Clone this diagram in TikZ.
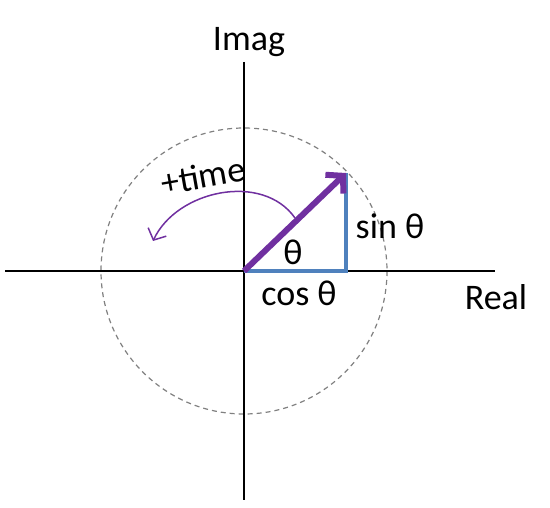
\documentclass[tikz,border=0pt]{standalone}
\usepackage{fontspec}
\setmainfont{Carlito}
\usetikzlibrary{arrows.meta}
\definecolor{ppl}{RGB}{112,48,160}
\definecolor{blu}{RGB}{79,129,189}
\begin{document}
\begin{tikzpicture}[x=1pt,y=-1pt,
  axis/.style={black,line width=1.8pt},
  lbl/.style={font=\fontsize{36}{40}\selectfont,inner sep=0pt}]
\useasboundingbox (0,0) rectangle (550,508);
\coordinate (O) at (244,271);
\coordinate (L) at (5,271);
\coordinate (R) at (495,271);
\coordinate (T) at (244,62);
\coordinate (B) at (244,500);
\coordinate (C) at (346,271);
\coordinate (P) at (346,173);
\coordinate (s) at (295,218);
\coordinate (e) at (153,241);
\draw[gray,line width=1.2pt,dash pattern=on 5pt off 4pt] (O) circle[radius=143];
\draw[axis] (L) -- (R);
\draw[axis] (T) -- (B);
\draw[blu,line width=4pt] (O) -- (C) -- (P);
\draw[ppl,line width=6pt,-{Straight Barb[length=12pt,width=26pt,line width=6pt]}] (O) -- (P);
\draw[ppl,line width=1.5pt,-{Straight Barb[length=9pt,width=20pt]}] (s) to[out=125,in=65] (e);
\node[lbl] (imag) at (249,42) {Imag};
\node[lbl] (real) at (496,297) {Real};
\node[lbl] (sin) at (390,226) {sin θ};
\node[lbl] (cos) at (299,293) {cos θ};
\node[lbl] (th) at (293,252) {θ};
\node[lbl,rotate=10] (time) at (203,176) {+time};
\end{tikzpicture}
\end{document}
